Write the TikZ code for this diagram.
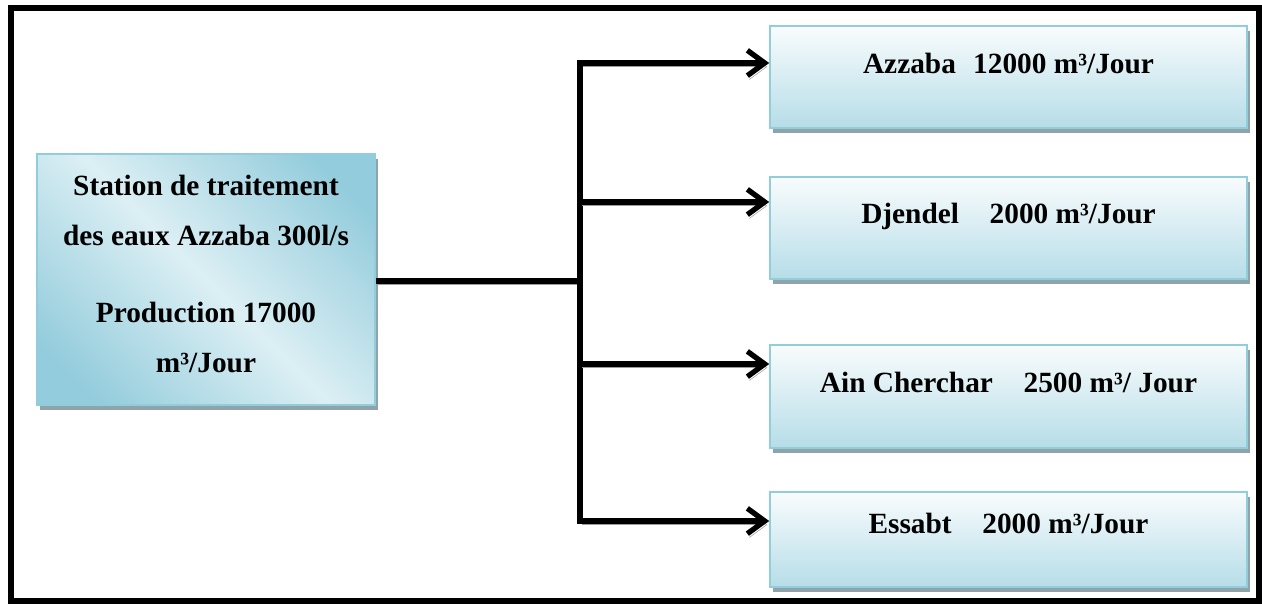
\documentclass[tikz,border=0pt]{standalone}
\usepackage{fontspec}
\setmainfont{Liberation Serif}
\usetikzlibrary{arrows.meta,shadows}

\definecolor{boxline}{HTML}{92CDDC}
\definecolor{boxdark}{HTML}{93CCDC}
\definecolor{boxlight}{HTML}{DCEFF4}
\definecolor{boxtop}{HTML}{F9FCFD}
\definecolor{boxbottom}{HTML}{B6DDE8}
\definecolor{boxshadow}{HTML}{8FA3AA}
\definecolor{lineshadow}{HTML}{9C9C9C}

\pgfdeclarehorizontalshading{diagband}{100bp}{color(0bp)=(boxdark); color(22bp)=(boxdark); color(50bp)=(boxlight); color(78bp)=(boxdark); color(100bp)=(boxdark)}

\tikzset{
  boxshade/.style={drop shadow={shadow xshift=2.25pt, shadow yshift=-3.5pt, fill=boxshadow, opacity=1}},
  srcbox/.style={boxshade, draw=boxline, line width=1.2pt, shading=diagband, shading angle=45,
    minimum width=253.5pt, minimum height=188.25pt, inner sep=0pt},
  dstbox/.style={boxshade, draw=boxline, line width=1.2pt, top color=boxtop, bottom color=boxbottom,
    minimum width=357.75pt, inner sep=0pt},
  srctext/.style={font=\fontsize{22}{37.5}\selectfont\bfseries, align=center, inner sep=0pt},
  dsttext/.style={font=\fontsize{22}{26}\selectfont\bfseries, inner sep=0pt, text height=14.5pt, text depth=0pt},
  conn/.style={line width=4pt, line join=miter, black,
    preaction={draw=lineshadow, transform canvas={shift={(1.5pt,-2.8pt)}}}},
  tip/.style={-{Straight Barb[length=13pt,width=19pt]}},
  bothtips/.style={{Straight Barb[length=13pt,width=19pt]}-{Straight Barb[length=13pt,width=19pt]}},
  frame/.style={line width=4.5pt, black}
}

\begin{document}
\begin{tikzpicture}[x=0.75pt,y=-0.75pt]
\useasboundingbox (0,0) rectangle (1262,604);
\draw[frame] (11,8) rectangle (1259,601);

% source box
\node[srcbox] (L) at (206,279.5) {};
\node[srctext] (Lt) at (206,274) {Station de traitement\\des eaux Azzaba 300l/s\\[20pt]Production 17000\\m³/Jour};

% destination boxes
\node[dstbox, minimum height=76.5pt] (R1) at (1008.5,77) {};
\node[dstbox, minimum height=76.5pt] (R2) at (1008.5,228) {};
\node[dstbox, minimum height=77.25pt] (R3) at (1008.5,396.5) {};
\node[dstbox, minimum height=71.25pt] (R4) at (1008.5,539.5) {};

\node[dsttext] (T1) at (1008.5,64) {Azzaba\hspace{13pt}12000 m³/Jour};
\node[dsttext] (T2) at (1008.5,214) {Djendel\hspace{23pt}2000 m³/Jour};
\node[dsttext] (T3) at (1008.5,383) {Ain Cherchar\hspace{23pt}2500 m³/ Jour};
\node[dsttext] (T4) at (1008.5,524) {Essabt\hspace{23pt}2000 m³/Jour};

% connectors
\coordinate (J) at (580,281);
\coordinate (b1) at (580,63);
\coordinate (b2) at (580,202);
\coordinate (b3) at (580,364);
\coordinate (b4) at (580,521);

\draw[conn] (L.east |- J) -- (J);
\draw[conn, bothtips] (b1 -| R1.west) -- (b1) -- (b4) -- (b4 -| R4.west);
\draw[conn, tip] (b2) -- (b2 -| R2.west);
\draw[conn, tip] (b3) -- (b3 -| R3.west);
\end{tikzpicture}
\end{document}
